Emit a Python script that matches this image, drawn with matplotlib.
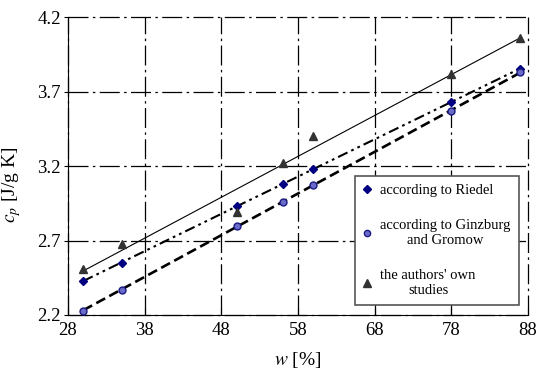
import matplotlib.pyplot as plt
import numpy as np

plt.rcParams['font.family'] = ['Liberation Serif', 'DejaVu Serif']
plt.rcParams['mathtext.fontset'] = 'stix'

w = [30, 35, 50, 56, 60, 78, 87]
riedel = [2.43, 2.55, 2.93, 3.08, 3.18, 3.63, 3.855]
ginzburg = [2.23, 2.37, 2.80, 2.96, 3.07, 3.57, 3.83]
authors = [2.51, 2.68, 2.89, 3.22, 3.40, 3.82, 4.06]

xticks = [28, 38, 48, 58, 68, 78, 88]
yticks = [2.2, 2.7, 3.2, 3.7, 4.2]

fig = plt.figure(figsize=(5.5, 3.78), dpi=100)
ax = fig.add_axes([0.1236, 0.1667, 0.8364, 0.788])

x = np.array(w, dtype=float)
xl = np.array([x.min(), x.max()])

# trend lines
p = np.polyfit(x, authors, 1)
ax.plot(xl, np.polyval(p, xl), color='black', lw=0.8, zorder=3)
p = np.polyfit(x, riedel, 1)
ax.plot(xl, np.polyval(p, xl), color='black', lw=1.5,
        linestyle=(0, (5, 2, 1.3, 2, 1.3, 2)), zorder=3)
p = np.polyfit(x, ginzburg, 1)
ax.plot(xl, np.polyval(p, xl), color='black', lw=1.9,
        linestyle=(0, (3.8, 1.8)), zorder=3)

ax.plot(w, riedel, 'D', ms=4, color='#000080', ls='none', zorder=4,
        label='according to Riedel')
ax.plot(w, ginzburg, 'o', ms=5, mfc='#6a6ac8', mec='#1a1a80', mew=1, ls='none',
        zorder=4, label='according to Ginzburg\nand Gromow')
ax.plot(w, authors, '^', ms=6, color='#333333', ls='none', zorder=4,
        label="the authors' own\nstudies")

ax.set_xlim(28, 88)
ax.set_ylim(2.2, 4.2)
ax.set_xticks(xticks)
ax.set_yticks(yticks)
ax.set_yticklabels(['%.1f' % v for v in yticks])
ax.tick_params(axis='x', direction='in', length=5, labelsize=13.5, pad=5)
ax.tick_params(axis='y', direction='out', length=3, labelsize=13.5, pad=2)

ax.spines['top'].set_visible(False)
ax.spines['right'].set_visible(False)
ax.grid(True, color='black', lw=0.9, linestyle=(0, (16, 3.5, 2, 3.5)))
for gl in ax.get_xgridlines() + ax.get_ygridlines():
    gl.set_clip_on(False)

ax.set_xlabel(r'$w$ [%]', fontsize=14, labelpad=8)
ax.set_ylabel(r'$c_p$ [J/g K]', fontsize=14)
ax.yaxis.set_label_coords(-0.098, 0.436)

leg = ax.legend(loc='lower right', bbox_to_anchor=(0.98, 0.034), fontsize=10.5,
                frameon=True, fancybox=False, edgecolor='#555555',
                framealpha=1, labelspacing=1.5, handlelength=0.5,
                handletextpad=0.7, borderpad=0.55, borderaxespad=0,
                markerscale=0.9)
leg.get_frame().set_linewidth(1.2)
for t in leg.get_texts():
    t.set_multialignment('center')

fig.savefig('out.png', dpi=100)
